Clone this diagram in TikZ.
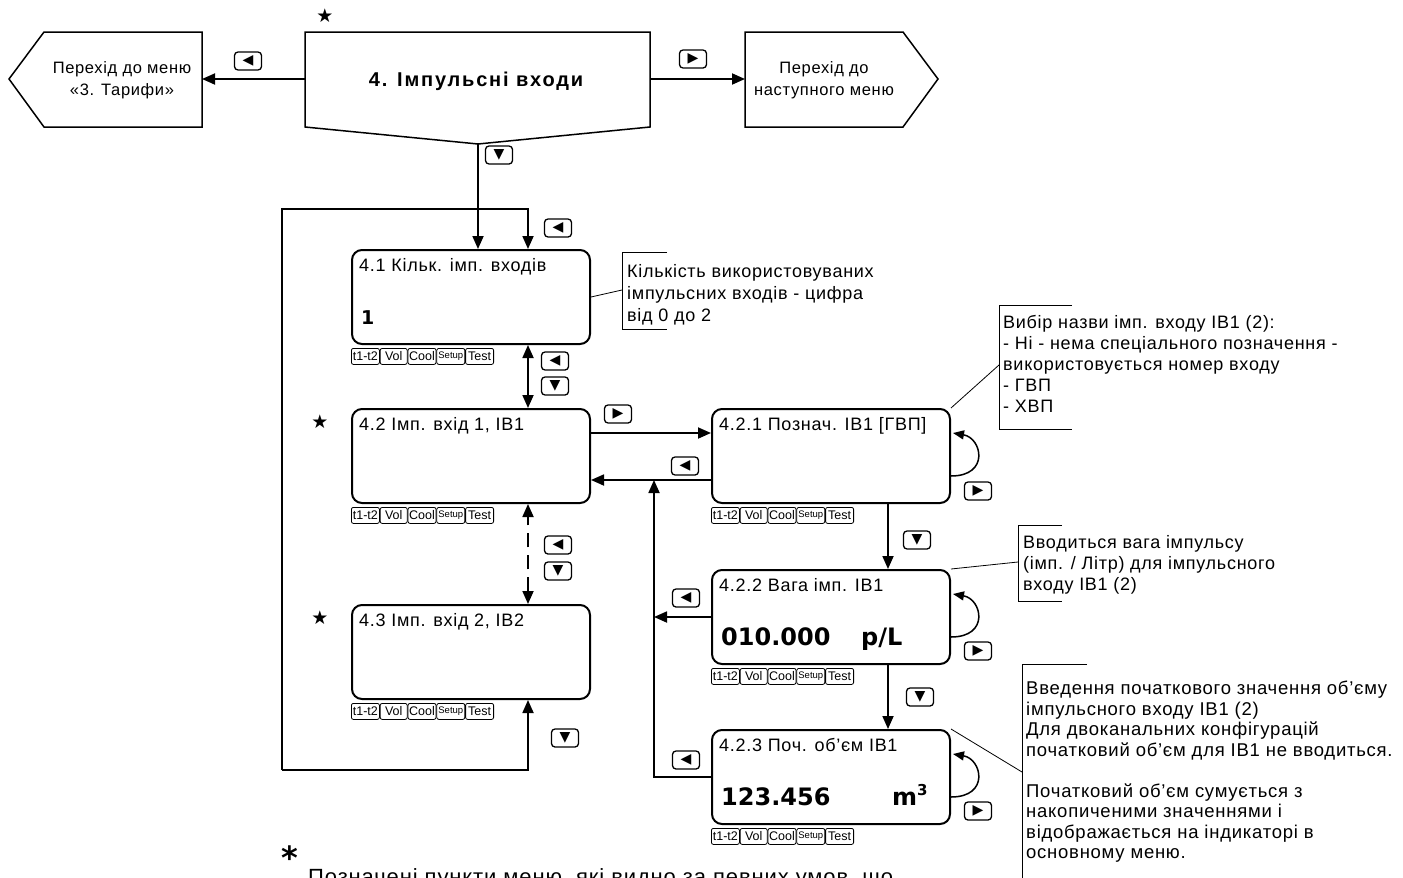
\documentclass[tikz,border=0pt]{standalone}
\usepackage{fontspec}
\setmainfont{Liberation Sans}
\newfontfamily\spacedfont{Liberation Sans}[LetterSpace=4]
\newfontfamily\widefont{Liberation Sans}[LetterSpace=9]
\newfontfamily\symfont{DejaVu Sans}
\usetikzlibrary{arrows.meta}

\tikzset{
  menubox/.style={draw,rounded corners=10pt,line width=2pt,minimum width=238pt,minimum height=94pt,inner sep=0pt},
  tabbox/.style={draw,rounded corners=2pt,line width=0.8pt,minimum height=16pt,inner sep=0pt,font=\fontsize{12.5}{12.5}\selectfont},
  keybox/.style={draw,rounded corners=3.5pt,line width=1.3pt,minimum width=27pt,minimum height=18pt,inner sep=0pt,font=\symfont\fontsize{14}{14}\selectfont},
  conn/.style={line width=1.8pt,-{Triangle[length=13pt,width=11pt]}},
  bothconn/.style={line width=1.8pt,{Triangle[length=13pt,width=11pt]}-{Triangle[length=13pt,width=11pt]}},
  selfloop/.style={line width=1.5pt,-{Triangle[length=11pt,width=9pt]}},
  boxtitle/.style={anchor=base west,inner sep=0pt,font=\spacedfont\fontsize{18}{18}\selectfont},
  boxvalue/.style={anchor=base west,inner sep=0pt,font=\symfont\bfseries\fontsize{24}{24}\selectfont},
  notetext/.style={anchor=north west,inner sep=0pt,align=left,font=\spacedfont\fontsize{18}{21}\selectfont},
  leader/.style={line width=0.8pt},
  starmark/.style={inner sep=0pt,font=\symfont\fontsize{19}{19}\selectfont},
}

% row of soft keys under a display
\newcommand{\tabrow}[1]{%
  \node[tabbox,minimum width=28pt,anchor=north west] (#1-t1) at ([yshift=-3pt]#1.south west) {t1-t2};
  \node[tabbox,minimum width=27pt,anchor=west] (#1-t2) at (#1-t1.east) {Vol};
  \node[tabbox,minimum width=28pt,anchor=west] (#1-t3) at (#1-t2.east) {Cool};
  \node[tabbox,minimum width=28pt,anchor=west,font=\fontsize{9.5}{9.5}\selectfont] (#1-t4) at (#1-t3.east) {Setup};
  \node[tabbox,minimum width=28pt,anchor=west] (#1-t5) at (#1-t4.east) {Test};
}

\begin{document}
\begin{tikzpicture}[x=1pt,y=-1pt]
\useasboundingbox (0,0) rectangle (1403,878);
\clip (0,0) rectangle (1403,878);

% top row
\draw[line width=1.5pt] (202,32) -- (44,32) -- (9,79) -- (44,127) -- (202,127) -- cycle;
\node[align=center,font=\spacedfont\fontsize{16.5}{22}\selectfont] (prev) at (122,80) {Перехід до меню\\«3. Тарифи»};
\coordinate (prevE) at (202,79);

\draw[line width=1.5pt] (305,32) -- (650,32) -- (650,127) -- (478,144) -- (305,127) -- cycle;
\node[font=\widefont\bfseries\fontsize{20}{20}\selectfont] (main) at (476,81) {4. Імпульсні входи};
\coordinate (mainW) at (305,79);
\coordinate (mainE) at (650,79);
\coordinate (mainS) at (478,144);
\node[starmark] (s0) at (325,16) {★};

\draw[line width=1.5pt] (745,32) -- (903,32) -- (938,79) -- (903,127) -- (745,127) -- cycle;
\node[align=center,font=\spacedfont\fontsize{16.5}{22}\selectfont] (next) at (824,80) {Перехід до\\наступного меню};
\coordinate (nextW) at (745,79);

\draw[conn] (mainW) -- (prevE);
\draw[conn] (mainE) -- (nextW);
\node[keybox] (k1) at (248,61) {◀};
\node[keybox] (k2) at (693,59) {▶};

% left column
\node[menubox] (b41) at (471,297) {};
\node[boxtitle] (b41a) at ([xshift=8pt,yshift=-22pt]b41.north west) {4.1 Кільк. імп. входів};
\node[boxvalue,font=\symfont\bfseries\fontsize{19}{19}\selectfont] (b41b) at ([xshift=10pt,yshift=-75pt]b41.north west) {1};
\tabrow{b41}

\node[menubox] (b42) at (471,456) {};
\node[boxtitle] (b42a) at ([xshift=8pt,yshift=-22pt]b42.north west) {4.2 Імп. вхід 1, ІВ1};
\tabrow{b42}
\node[starmark] (s1) at (320,422) {★};

\node[menubox] (b43) at (471,652) {};
\node[boxtitle] (b43a) at ([xshift=8pt,yshift=-22pt]b43.north west) {4.3 Імп. вхід 2, ІВ2};
\tabrow{b43}
\node[starmark] (s2) at (320,618) {★};

\coordinate (loopTL) at (282,209);
\coordinate (loopBL) at (282,770);
\draw[conn] (mainS) -- (mainS |- b41.north);
\node[keybox] (k3) at (499,155) {▼};
\draw[conn] (loopBL) -- (loopTL) -| ([xshift=57pt]b41.north);
\draw[conn] (loopBL) -| ([xshift=57pt]b43.south);
\node[keybox] (k4) at (558,228) {◀};
\node[keybox] (k5) at (565,738) {▼};

\draw[bothconn] ([xshift=57pt]b42.north) -- ([xshift=57pt]b41.south);
\node[keybox] (k6) at (555,361) {◀};
\node[keybox] (k7) at (555,386) {▼};
\draw[bothconn,dash pattern=on 14pt off 8pt] ([xshift=57pt]b43.north) -- ([xshift=57pt]b42.south);
\node[keybox] (k8) at (558,545) {◀};
\node[keybox] (k9) at (558,571) {▼};

% right column
\node[menubox] (b421) at (831,456) {};
\node[boxtitle] (b421a) at ([xshift=8pt,yshift=-22pt]b421.north west) {4.2.1 Познач. ІВ1 [ГВП]};
\tabrow{b421}

\node[menubox] (b422) at (831,617) {};
\node[boxtitle] (b422a) at ([xshift=8pt,yshift=-22pt]b422.north west) {4.2.2 Вага імп. ІВ1};
\node[boxvalue] (b422b) at ([xshift=10pt,yshift=-76pt]b422.north west) {010.000};
\node[boxvalue] (b422c) at ([xshift=150pt,yshift=-76pt]b422.north west) {p/L};
\tabrow{b422}

\node[menubox] (b423) at (831,777) {};
\node[boxtitle] (b423a) at ([xshift=8pt,yshift=-22pt]b423.north west) {4.2.3 Поч. об’єм ІВ1};
\node[boxvalue] (b423b) at ([xshift=10pt,yshift=-76pt]b423.north west) {123.456};
\node[boxvalue] (b423c) at ([xshift=181pt,yshift=-76pt]b423.north west) {m\raisebox{10pt}{\fontsize{15}{15}\selectfont 3}};
\tabrow{b423}

\draw[conn] ([yshift=23pt]b42.east) -- ([yshift=23pt]b421.west);
\node[keybox] (k10) at (618,414) {▶};
\draw[conn] ([yshift=-24pt]b421.west) -- ([yshift=-24pt]b42.east);
\node[keybox] (k11) at (685,466) {◀};
\draw[conn] (b422.west) -- ([xshift=-57pt]b422.west);
\node[keybox] (k12) at (686,598) {◀};
\draw[conn] (b423.west) -| ([xshift=-57pt,yshift=-24pt]b421.west);
\node[keybox] (k13) at (686,760) {◀};

\draw[conn] ([xshift=57pt]b421.south) -- ([xshift=57pt]b422.north);
\node[keybox] (k14) at (917,540) {▼};
\draw[conn] ([xshift=57pt]b422.south) -- ([xshift=57pt]b423.north);
\node[keybox] (k15) at (920,697) {▼};

% self loops
\foreach \b/\k/\y in {b421/k16/491, b422/k17/651, b423/k18/811}{
  \draw[selfloop] ([yshift=-20pt]\b.east) .. controls ([xshift=39pt,yshift=-20pt]\b.east) and ([xshift=31pt,yshift=18pt]\b.east) .. ([xshift=2pt,yshift=23pt]\b.east);
  \node[keybox] (\k) at (978,\y) {▶};
}

% notes
\coordinate (c41m) at (622,290);
\draw[leader] (b41.east) -- (c41m);
\draw[leader] (667,252) -| (622,329) -- (667,329);
\node[notetext,font=\spacedfont\fontsize{18}{22}\selectfont] (c41) at (627,264.5) {Кількість використовуваних\\імпульсних входів - цифра\\від 0 до 2};

\coordinate (c421m) at (999,365);
\draw[leader] (b421.north east) -- (c421m);
\draw[leader] (1072,305) -| (999,429) -- (1072,429);
\node[notetext] (c421) at (1003,315.5) {Вибір назви імп. входу ІВ1 (2):\\- Ні - нема спеціального позначення -\\використовується номер входу\\- ГВП\\- ХВП};

\coordinate (c422m) at (1018,562);
\draw[leader] (b422.north east) -- (c422m);
\draw[leader] (1062,525) -| (1018,601) -- (1062,601);
\node[notetext] (c422) at (1023,535.5) {Вводиться вага імпульсу\\(імп. / Літр) для імпульсного\\входу ІВ1 (2)};

\coordinate (c423m) at (1022,772);
\draw[leader] (b423.north east) -- (c423m);
\draw[leader] (1087,664) -| (1022,880);
\node[notetext,font=\spacedfont\fontsize{18.5}{20.5}\selectfont] (c423) at (1026,681) {Введення початкового значення об’єму\\імпульсного входу ІВ1 (2)\\Для двоканальних конфігурацій\\початковий об’єм для ІВ1 не вводиться.\\[20.5pt]Початковий об’єм сумується з\\накопиченими значеннями і\\відображається на індикаторі в\\основному меню.};

% footnote
\node[inner sep=0pt,font=\symfont\bfseries\fontsize{32}{32}\selectfont] (ast) at (290,858) {*};
\node[anchor=base west,inner sep=0pt,font=\spacedfont\fontsize{22}{22}\selectfont] (foot) at (308,884) {Позначені пункти меню, які видно за певних умов, що};
\end{tikzpicture}
\end{document}
